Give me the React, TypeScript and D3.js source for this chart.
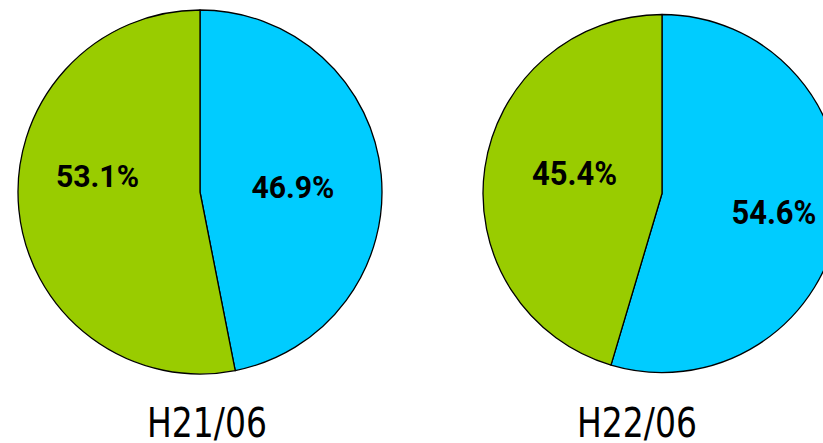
import React from 'react'
import * as d3 from 'd3'

// one pie per period; blue slice starts at 12 o'clock, clockwise
const periods = ['H21/06', 'H22/06']
const blueShare = [46.9, 54.6]
const greenShare = [53.1, 45.4]

const COLORS = ['#00CCFF', '#99CC00']
const W = 823
const H = 443

// layout for each pie (cropped image, so placed by hand)
const layout = [
  { cx: 200, cy: 192, r: 182, titleX: 207, labelR: [0.513, 0.566], labelDy: [3.6, -26], fs: 32, tl: 83 },
  { cx: 662, cy: 193.5, r: 179, titleX: 637, labelR: [0.632, 0.494], labelDy: [2.2, -8.3], fs: 34, tl: 85 },
]

export default function App() {
  const pie = d3.pie<number>().sort(null).value(d => d)

  return (
    <svg width={W} height={H} style={{ position: 'absolute', left: 0, top: 0, background: '#fff' }}>
      {periods.map((p, i) => {
        const L = layout[i]
        const values = [blueShare[i], greenShare[i]]
        const arcs = pie(values)
        const arc = d3.arc<d3.PieArcDatum<number>>().innerRadius(0).outerRadius(L.r)
        return (
          <g key={p}>
            <g transform={`translate(${L.cx},${L.cy})`}>
              {arcs.map((a, j) => (
                <path key={j} d={arc(a) || ''} fill={COLORS[j]} stroke="#000" strokeWidth={1.3} strokeLinejoin="round" />
              ))}
              {arcs.map((a, j) => {
                const lr = L.r * L.labelR[j]
                const [x, y] = d3.arc<d3.PieArcDatum<number>>().innerRadius(lr).outerRadius(lr).centroid(a)
                return (
                  <text
                    key={'t' + j}
                    x={x}
                    y={y + L.labelDy[j] + L.fs * 0.355}
                    textAnchor="middle"
                    fontFamily="Roboto, 'DejaVu Sans', sans-serif"
                    fontWeight="bold"
                    fontSize={L.fs}
                    textLength={L.tl}
                    lengthAdjust="spacingAndGlyphs"
                    fill="#000"
                  >
                    {d3.format('.1f')(a.data)}%
                  </text>
                )
              })}
            </g>
            <text
              x={L.titleX}
              y={437}
              textAnchor="middle"
              fontFamily="'DejaVu Sans', sans-serif"
              fontSize={40}
              textLength={120}
              lengthAdjust="spacingAndGlyphs"
              fill="#000"
            >
              {p}
            </text>
          </g>
        )
      })}
    </svg>
  )
}
